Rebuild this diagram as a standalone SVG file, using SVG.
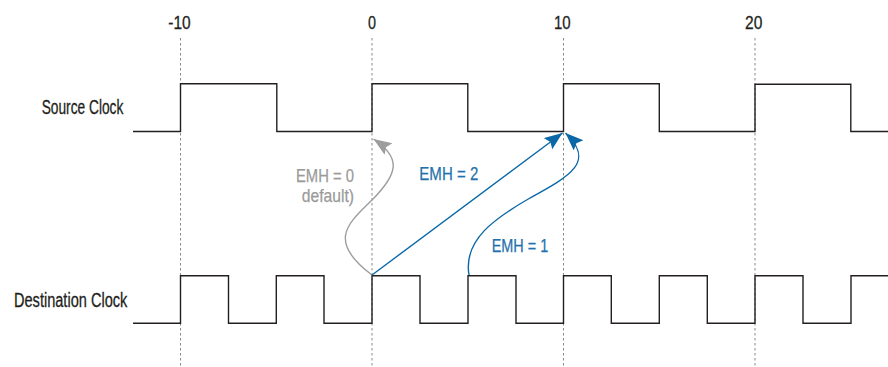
<svg xmlns="http://www.w3.org/2000/svg" width="888" height="367" viewBox="0 0 888 367">
<style>
.lbl{font-family:"Liberation Sans",Arial,sans-serif;fill:#231f20;stroke:#231f20;stroke-width:0.3}
.tick{font-size:19px}
.clk{font-size:20px}
.emh{font-family:"Liberation Sans",Arial,sans-serif;font-size:19px;stroke-width:0.25}
.gray{fill:#9a9a9a;stroke:#9a9a9a}
.blue{fill:#1f72ad;stroke:#1f72ad}
.wave{fill:none;stroke:#231f20;stroke-width:1.4}
.grid{stroke:#8a8a8a;stroke-width:1;stroke-dasharray:2.5,2.5}
.conn-gray{fill:none;stroke:#9d9d9d;stroke-width:1.4}
.conn-blue{fill:none;stroke:#0b68a7;stroke-width:1.4}
</style>
<defs>
<marker id="ahGray" markerUnits="userSpaceOnUse" markerWidth="20" markerHeight="16" refX="18" refY="7" orient="auto">
<path d="M0,0 L18,7 L0,14 L3,7 z" fill="#9d9d9d"/>
</marker>
<marker id="ahBlue" markerUnits="userSpaceOnUse" markerWidth="20" markerHeight="16" refX="18" refY="7" orient="auto">
<path d="M0,0 L18,7 L0,14 L3,7 z" fill="#0b68a7"/>
</marker>
</defs>
<g id="grid">
<line class="grid" x1="180.5" y1="38" x2="180.5" y2="367"/>
<line class="grid" x1="372" y1="38" x2="372" y2="367"/>
<line class="grid" x1="563.5" y1="38" x2="563.5" y2="367"/>
<line class="grid" x1="755" y1="38" x2="755" y2="367"/>
</g>
<g id="ticks">
<text class="lbl tick" x="168.3" y="29" textLength="22.4" lengthAdjust="spacingAndGlyphs">-10</text>
<text class="lbl tick" x="368" y="29" textLength="8" lengthAdjust="spacingAndGlyphs">0</text>
<text class="lbl tick" x="554" y="29" textLength="16.7" lengthAdjust="spacingAndGlyphs">10</text>
<text class="lbl tick" x="745" y="29" textLength="17.3" lengthAdjust="spacingAndGlyphs">20</text>
</g>
<g id="source-clock">
<text class="lbl clk" x="41.7" y="114.3" textLength="81.6" lengthAdjust="spacingAndGlyphs">Source Clock</text>
<path class="wave" d="M133,131.5 H180.5 V83.8 H276.8 V131.5 H372 V83.8 H467.8 V131.5 H563.5 V83.8 H659.3 V131.5 H755 V84.3 H850.8 V131.5 H888"/>
</g>
<g id="destination-clock">
<text class="lbl clk" x="14" y="306.5" textLength="113.3" lengthAdjust="spacingAndGlyphs">Destination Clock</text>
<path class="wave" d="M133,323.3 H180.5 V275.7 H228.5 V323.3 H276.3 V275.7 H324 V323.3 H372 V275.7 H420 V323.3 H468 V275.7 H516 V323.3 H563.5 V275.7 H611.3 V323.3 H659.3 V275.7 H707.3 V323.3 H755 V275.7 H803 V323.3 H851 V275.7 H888"/>
</g>
<g id="connectors">
<path class="conn-gray" d="M372,275 C325,240 350,222 372,200 C398,174 402,158 373.5,139" marker-end="url(#ahGray)"/>
<path class="conn-blue" d="M372,275 L562.5,133" marker-end="url(#ahBlue)"/>
<path class="conn-blue" d="M469,275 C463,240 495,218 530,198 C570,176 596,162 565.5,133" marker-end="url(#ahBlue)"/>
</g>
<g id="labels">
<text class="emh gray" x="296" y="181.5" textLength="58" lengthAdjust="spacingAndGlyphs">EMH = 0</text>
<text class="emh gray" x="301.7" y="201.5" textLength="52.3" lengthAdjust="spacingAndGlyphs">default)</text>
<text class="emh blue" x="419.3" y="180" textLength="59" lengthAdjust="spacingAndGlyphs">EMH = 2</text>
<text class="emh blue" x="491.7" y="251.7" textLength="56.6" lengthAdjust="spacingAndGlyphs">EMH = 1</text>
</g>
</svg>
